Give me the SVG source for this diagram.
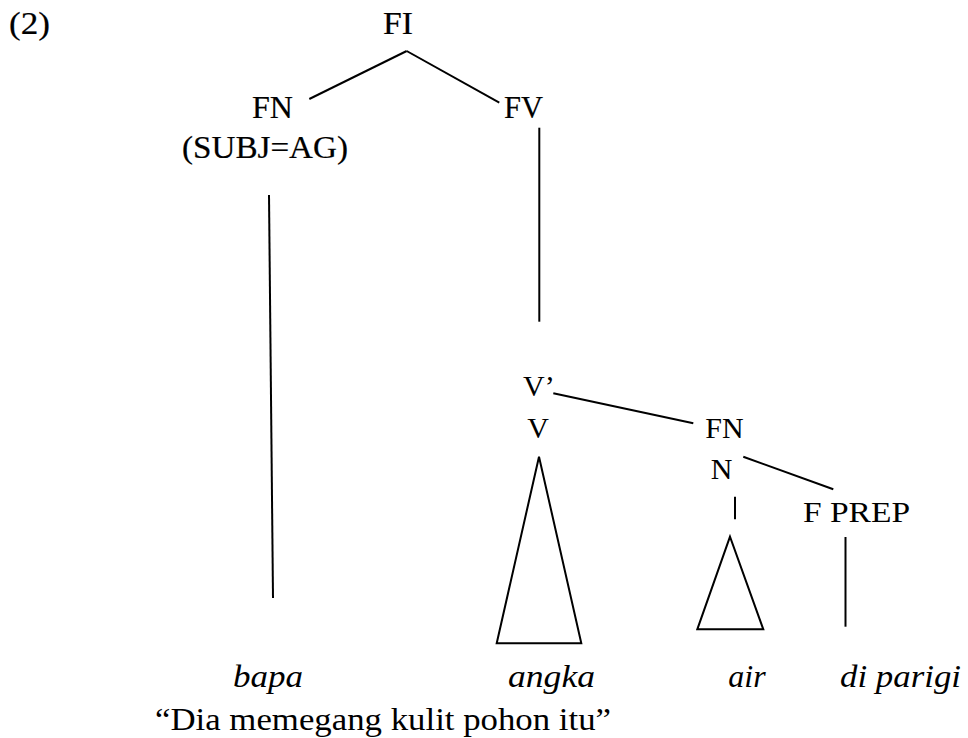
<svg xmlns="http://www.w3.org/2000/svg" width="968" height="738" viewBox="0 0 968 738">
  <style>
    .lbl { font-family: "Liberation Serif", "Times New Roman", serif; font-size: 30px; fill: #000; }
    .heavy { stroke: #000; stroke-width: 0.2px; font-size: 31px; }
    .mid { text-anchor: middle; }
    .it { font-style: italic; font-size: 32px; }
    .gl { font-size: 32px; }
    .edge { stroke: #000; stroke-width: 2; fill: none; stroke-linecap: butt; }
  </style>
  <rect width="968" height="738" fill="#fff"/>
  <g id="connectors">
    <line class="edge" x1="406.7" y1="51" x2="309.3" y2="99"/>
    <line class="edge" x1="406.7" y1="51" x2="499.3" y2="102.7"/>
    <line class="edge" x1="269" y1="195" x2="273" y2="598"/>
    <line class="edge" x1="539.3" y1="127.7" x2="539.3" y2="321.7"/>
    <line class="edge" x1="553.3" y1="393.3" x2="693.3" y2="423.3"/>
    <line class="edge" x1="743.3" y1="456.7" x2="833.3" y2="489.3"/>
    <line class="edge" x1="735" y1="496.7" x2="735" y2="519.3"/>
    <line class="edge" x1="845.5" y1="537" x2="845.5" y2="626.7"/>
    <polygon class="edge" points="539,456.7 496.7,643.3 581.3,643.3"/>
    <polygon class="edge" points="730,536.7 697.3,629.3 763.3,629.3"/>
  </g>
  <g id="ex-num"><text class="lbl heavy" x="9" y="34" textLength="41" lengthAdjust="spacingAndGlyphs">(2)</text></g>
  <g id="node-FI"><text class="lbl heavy mid" x="398" y="34" textLength="30" lengthAdjust="spacingAndGlyphs">FI</text></g>
  <g id="node-FN-subj">
    <text class="lbl heavy mid" x="272.5" y="118" textLength="41" lengthAdjust="spacingAndGlyphs">FN</text>
    <text class="lbl heavy" x="182" y="158" textLength="166" lengthAdjust="spacingAndGlyphs">(SUBJ=AG)</text>
  </g>
  <g id="node-FV"><text class="lbl heavy mid" x="523.5" y="118" textLength="39" lengthAdjust="spacingAndGlyphs">FV</text></g>
  <g id="node-Vbar"><text class="lbl" x="523" y="396">V’</text></g>
  <g id="node-V"><text class="lbl mid" x="538" y="438">V</text></g>
  <g id="node-FN-obj"><text class="lbl mid" x="724.5" y="438">FN</text></g>
  <g id="node-N"><text class="lbl mid" x="721.5" y="479">N</text></g>
  <g id="node-FPREP"><text class="lbl" x="803" y="521.7" textLength="107" lengthAdjust="spacingAndGlyphs">F PREP</text></g>
  <g id="leaf-bapa"><text class="lbl it" x="233" y="687" textLength="70" lengthAdjust="spacingAndGlyphs">bapa</text></g>
  <g id="leaf-angka"><text class="lbl it" x="508" y="687" textLength="87" lengthAdjust="spacingAndGlyphs">angka</text></g>
  <g id="leaf-air"><text class="lbl it mid" x="747" y="687">air</text></g>
  <g id="leaf-diparigi"><text class="lbl it" x="840" y="687" textLength="121" lengthAdjust="spacingAndGlyphs">di parigi</text></g>
  <g id="gloss"><text class="lbl gl" x="155" y="730" textLength="456" lengthAdjust="spacingAndGlyphs">“Dia memegang kulit pohon itu”</text></g>
</svg>
